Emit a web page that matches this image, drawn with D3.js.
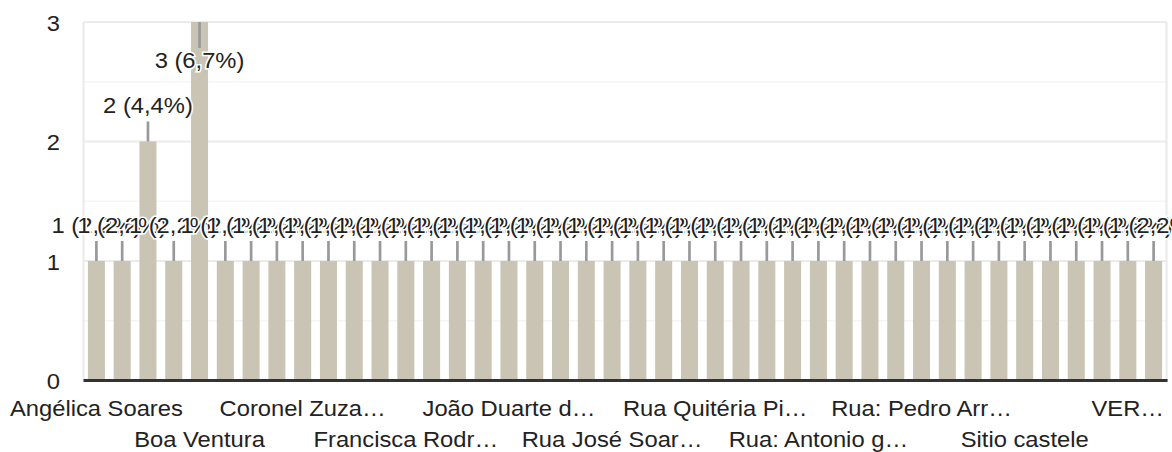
<!DOCTYPE html>
<html>
<head>
<meta charset="utf-8">
<script src="https://cdn.jsdelivr.net/npm/d3@7"></script>
<style>
  body { margin: 0; background: #fff; }
  svg { display: block; }
  text { font-family: "Liberation Sans", Arial, sans-serif; fill: #222; }
</style>
</head>
<body>
<div id="wrapper"></div>
<script>
// 42 answers, only every 4th label is drawn by the chart (the rest are unknown)
const categories = [
  "Angélica Soares", "", "", "", "Boa Ventura", "", "", "",
  "Coronel Zuza…", "", "", "", "Francisca Rodr…", "", "", "",
  "João Duarte d…", "", "", "", "Rua José Soar…", "", "", "",
  "Rua Quitéria Pi…", "", "", "", "Rua: Antonio g…", "", "", "",
  "Rua: Pedro Arr…", "", "", "", "Sitio castele", "", "", "",
  "VER…", ""
];
const values = [
  1, 1, 2, 1, 3, 1, 1, 1, 1, 1,
  1, 1, 1, 1, 1, 1, 1, 1, 1, 1,
  1, 1, 1, 1, 1, 1, 1, 1, 1, 1,
  1, 1, 1, 1, 1, 1, 1, 1, 1, 1,
  1, 1
];
const yTicks = [0, 1, 2, 3];
const yMinorTicks = [0.5, 1.5, 2.5];

function draw() {
  // the reference is a bit wider than tall, so stretch the whole drawing a little
  const sx = 1.08;
  const dimensions = {
    width: 1172,
    height: 452,
    left: 83.5 / sx,
    right: 1166.5 / sx,
    top: 22,
    bottom: 380.5
  };

  const svg = d3.select("#wrapper")
    .append("svg")
      .attr("width", dimensions.width)
      .attr("height", dimensions.height)
      .attr("viewBox", "0 0 " + (dimensions.width / sx) + " " + dimensions.height)
      .attr("preserveAspectRatio", "none");

  const total = d3.sum(values);
  const pct = d3.format(".1f");

  const x = d3.scaleBand()
    .domain(d3.range(values.length))
    .range([dimensions.left, dimensions.right])
    .paddingInner(0.34)
    .paddingOuter(0.17);

  const y = d3.scaleLinear()
    .domain([0, 3])
    .range([dimensions.bottom, dimensions.top]);

  // gridlines
  svg.append("g")
    .selectAll("line")
    .data(yMinorTicks)
    .join("line")
      .attr("x1", dimensions.left)
      .attr("x2", dimensions.right)
      .attr("y1", d => y(d))
      .attr("y2", d => y(d))
      .attr("stroke", "#f5f5f5")
      .attr("stroke-width", 1.5);

  svg.append("g")
    .selectAll("line")
    .data(yTicks.filter(d => d > 0))
    .join("line")
      .attr("x1", dimensions.left)
      .attr("x2", dimensions.right)
      .attr("y1", d => y(d))
      .attr("y2", d => y(d))
      .attr("stroke", "#ebebeb")
      .attr("stroke-width", 2);

  svg.append("g")
    .selectAll("line")
    .data([dimensions.left, dimensions.right])
    .join("line")
      .attr("x1", d => d)
      .attr("x2", d => d)
      .attr("y1", dimensions.top)
      .attr("y2", dimensions.bottom)
      .attr("stroke", "#ebebeb")
      .attr("stroke-width", 2);

  // y labels
  svg.append("g")
    .selectAll("text")
    .data(yTicks)
    .join("text")
      .attr("x", 60 / sx)
      .attr("y", d => y(d) + 1)
      .attr("text-anchor", "end")
      .attr("dominant-baseline", "central")
      .attr("font-size", 22)
      .text(d => d);

  // bars
  svg.append("g")
    .selectAll("rect")
    .data(values)
    .join("rect")
      .attr("x", (d, i) => x(i))
      .attr("width", x.bandwidth())
      .attr("y", d => y(d))
      .attr("height", d => y(0) - y(d))
      .attr("fill", "#c9c4b4");

  // baseline
  svg.append("line")
    .attr("x1", dimensions.left)
    .attr("x2", dimensions.right + 1)
    .attr("y1", y(0))
    .attr("y2", y(0))
    .attr("stroke", "#333")
    .attr("stroke-width", 3);

  // annotations: stem + label, put inside the bar when there is no room above
  const inside = d => y(d) - 46 < dimensions.top;
  const cx = i => x(i) + x.bandwidth() / 2;

  svg.append("g")
    .selectAll("line")
    .data(values)
    .join("line")
      .attr("x1", (d, i) => cx(i))
      .attr("x2", (d, i) => cx(i))
      .attr("y1", d => y(d))
      .attr("y2", d => inside(d) ? y(d) + 26 : y(d) - 20)
      .attr("stroke", "#999")
      .attr("stroke-width", 2.5);

  svg.append("g")
    .selectAll("text")
    .data(values)
    .join("text")
      .attr("x", (d, i) => cx(i))
      .attr("y", d => inside(d) ? y(d) + 46 : y(d) - 28)
      .attr("text-anchor", "middle")
      .attr("font-size", 22)
      .attr("stroke", "#fff")
      .attr("stroke-width", 3)
      .attr("paint-order", "stroke")
      .text(d => d + " (" + pct(d / total * 100).replace(".", ",") + "%)");

  // category labels, two staggered rows
  svg.append("g")
    .selectAll("text")
    .data(categories.map((c, i) => ({ c, i })).filter(d => d.c !== ""))
    .join("text")
      .attr("x", d => cx(d.i))
      .attr("y", (d, k) => k % 2 === 0 ? 416 : 447)
      .attr("text-anchor", "middle")
      .attr("font-size", 22)
      .text(d => d.c);
}
draw();
</script>
</body>
</html>
